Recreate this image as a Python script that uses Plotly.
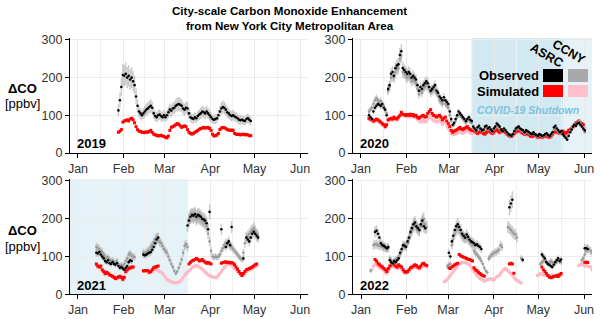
import pandas as pd
import plotly.graph_objects as go

W, H = 600, 319
YEARS = [2019, 2020, 2021, 2022]
MONTHS = ["Jan", "Feb", "Mar", "Apr", "May", "Jun"]
Y_TICKS = [0, 100, 200, 300]
OBS_ERR_PCT = [14, 7, 9, 9]

# ---- data: (first day, daily values) segments ----
OBS_ASRC_2019 = [("2019-01-28", [113, 140, 175, 207, 205, 210, 200, 205, 195, 200, 190, 180,
                                 150, 125, 110, 105, 100, 105, 110, 115, 118, 122, 125, 120,
                                 105, 98, 95, 100, 102, 98, 95, 100, 95, 100, 108, 115,
                                 112, 118, 120, 125, 128, 130, 128, 125, 118, 115, 120, 118,
                                 105, 95, 92, 90, 95, 92, 98, 102, 105, 110, 108, 105, 110, 105, 100,
                                 95, 90, 88, 90, 92, 100, 110, 118, 122, 120, 115,
                                 108, 105, 100, 98, 100, 97, 95, 92, 88, 87, 88, 86, 85, 90, 92, 88, 85])]
OBS_CCNY_2019 = []
SIM_ASRC_2019 = [("2019-01-28", [55, 58, 62, 82, 85, 86, 88, 85, 90, 92, 88, 80, 70, 62, 58,
                                 57, 55, 55, 54, 56, 55, 57, 60, 55, 50, 48, 47, 45, 46, 47, 45, 44,
                                 42, 40, 45, 60, 68, 70, 72, 75, 78, 76, 72, 68, 70, 72,
                                 70, 62, 55, 52, 50, 52, 55, 57, 60, 63, 65, 66, 68, 66, 67, 68, 65,
                                 60, 50, 45, 46, 48, 52, 62, 66, 68, 67, 65, 62, 61, 60, 61, 60,
                                 52, 50, 49, 50, 48, 49, 50, 48, 49, 48, 46, 46])]
SIM_CCNY_2019 = []

OBS_ASRC_2020 = [("2020-01-06", [100, 95, 90, 110, 120, 125, 130, 128, 125, 130, 120, 115, 100,
                                 170, 180, 210, 215, 205, 225, 232, 235, 260, 270,
                                 225, 220, 215, 210, 215, 210, 200, 205, 200, 195,
                                 180, 165, 175, 170, 180, 185, 190, 185, 175, 165, 170, 175, 180, 165, 160,
                                 150, 145, 140, 148, 140, 135, 130, 110, 90, 75, 80, 90,
                                 100, 110, 105, 100, 95, 90, 85, 90, 95, 88, 85,
                                 70, 65, 60, 68, 72, 65, 60, 62, 70, 72, 65, 68, 62, 58, 65,
                                 70, 78, 75, 70, 62, 58, 65, 60, 55, 50, 48, 45, 50, 58, 65,
                                 68, 70, 65, 62, 60, 55, 60, 58, 55, 52, 50, 55, 50, 48, 45,
                                 50, 48, 45, 47, 50, 52, 48, 45, 50, 55, 68, 72, 65, 60, 55, 58,
                                 50, 45, 40, 35, 45, 55, 62, 70, 75, 72, 78, 80, 75, 70, 65, 60])]
OBS_CCNY_2020 = [("2020-01-06", [110, 115, 120, 130, 140, 145, 140, 135, 138, 130, 125, 115, 105,
                                 165, 175, 200, 205, 200, 215, 222, 225, 250, 258,
                                 215, 212, 205, 200, 205, 198, 190, 195, 190, 185,
                                 170, 155, 165, 160, 170, 175, 180, 178, 170, 160, 165, 168, 170, 158, 155,
                                 140, 135, 130, 138, 130, 125, 120,
                                 100, 85, 72, 75, 85, 95, 102, 100, 95, 90, 85, 80, 85, 88, 82, 80,
                                 65, 62, 58, 65, 68, 62, 58, 60, 66, 68, 62, 64, 60, 55, 62,
                                 66, 72, 70, 66, 60, 55, 62, 58, 52, 48, 46, 44, 48, 55, 62,
                                 64, 66, 62, 58, 56, 52, 56, 55, 52, 50, 48, 52, 48, 46, 44,
                                 48, 46, 44, 45, 48, 50, 46, 44, 48, 52, 62, 66, 60, 56, 52, 55,
                                 48, 44, 42, 40, 48, 58, 65, 72, 76, 74, 80, 84, 78, 72, 62, 55])]
SIM_ASRC_2020 = [("2020-01-06", [92, 90, 88, 85, 87, 90, 88, 85, 82, 78, 75, 70, 75,
                                 88, 90, 92, 90, 95, 92, 90, 95, 100, 108, 103,
                                 102, 100, 102, 100, 103, 100, 102, 98, 100, 95, 92,
                                 95, 98, 100, 95, 97, 105, 110, 115, 105, 100, 98, 95, 98,
                                 100, 95, 88, 92, 95, 85, 78, 70, 60, 55, 58,
                                 60, 62, 65, 68, 64, 62, 65, 68, 70, 65, 62, 60,
                                 60, 58, 55, 52, 55, 58, 55, 52, 50, 55, 60, 58, 55, 52, 55,
                                 60, 62, 58, 55, 60, 62, 58, 55, 50, 47, 45, 44, 48, 52, 56,
                                 58, 60, 58, 55, 52, 50, 52, 50, 48, 45, 44, 46, 48, 45, 42,
                                 45, 43, 42, 44, 46, 45, 43, 42, 45, 50, 55, 58, 56, 55, 52, 55,
                                 58, 55, 52, 55, 60, 62, 65, 70, 75, 80, 82, 85, 80, 78, 75])]
SIM_CCNY_2020 = [("2020-01-06", [89, 87, 85, 82, 84, 87, 85, 82, 79, 75, 72, 67, 72,
                                 85, 87, 89, 87, 92, 89, 87, 92, 97, 104, 100,
                                 98, 97, 98, 96, 99, 96, 98, 94, 96, 90, 86,
                                 82, 84, 86, 82, 84, 90, 94, 98, 90, 86, 85, 82, 84,
                                 86, 82, 76, 80, 82, 72, 66, 60, 52, 48, 50,
                                 50, 52, 55, 58, 55, 52, 55, 58, 60, 56, 53, 52,
                                 57, 55, 52, 50, 52, 55, 52, 50, 48, 52, 57, 55, 52, 50, 52,
                                 57, 59, 55, 52, 57, 59, 55, 52, 48, 45, 43, 42, 46, 50, 54,
                                 56, 57, 55, 52, 50, 48, 50, 48, 46, 43, 42, 44, 46, 43, 40,
                                 43, 41, 40, 42, 44, 43, 41, 40, 43, 48, 52, 55, 53, 52, 50, 52,
                                 55, 52, 50, 52, 57, 59, 62, 66, 70, 75, 78, 80, 76, 74, 70, 65])]

OBS_ASRC_2021 = [("2021-01-13", [110, 108, 112, 105, 100, 95, 88, 85, 90, 82, 80, 85, 80, 78, 82,
                                 75, 70, 72, 68, 65, 70, 75, 85, 90, 88]),
                 ("2021-02-14", [105, 103, 105, 108, 110, 112, 118, 125, 135, 145, 150]),
                 ("2021-03-16", [182, 195, 205, 210, 208, 212, 205, 210, 208, 205, 200, 198, 195,
                                 188, 172, 218]),
                 ("2021-04-08", [172]),
                 ("2021-04-11", [125, 135, 140, 130]),
                 ("2021-04-15", [178]),
                 ("2021-04-23", [95]),
                 ("2021-04-25", [150, 145, 140, 150, 160, 165, 160, 155, 150])]
OBS_CCNY_2021 = [("2021-01-13", [125, 122, 120, 115, 112, 105, 100, 95, 98, 92, 88, 90, 86, 84, 88,
                                 80, 76, 78, 75, 80, 88, 95, 105, 108, 102, 100, 98]),
                 ("2021-02-14", [110, 108, 112, 115, 118, 125, 130, 138, 145, 148, 148, 140, 135,
                                 128, 120, 115, 110, 100, 90, 80, 72, 62, 55, 60, 70, 80, 92,
                                 110, 128, 132, 125]),
                 ("2021-03-17", [200, 205, 208, 205, 210, 200, 205, 202, 200, 195, 192, 188, 180,
                                 160, 140, 115, 100, 98, 100, 98, 100, 105]),
                 ("2021-04-08", [115, 122, 130, 135, 132, 135, 128, 125, 120, 115, 110, 105, 100,
                                 95, 92, 110, 135, 150, 155, 160, 165, 170, 175, 168, 160, 155])]
SIM_ASRC_2021 = [("2021-01-13", [80, 75, 72, 75, 65, 60, 55, 58, 56, 52, 50, 48, 45, 42, 44, 46,
                                 48, 45, 40, 45, 60, 65, 68, 70, 72, 72]),
                 ("2021-02-14", [62, 62, 63, 62, 58, 60, 65, 70, 72, 73, 75]),
                 ("2021-03-17", [80, 85, 88, 90, 92, 95, 92, 88, 90, 92, 88, 85, 82, 84, 82, 80]),
                 ("2021-04-08", [82, 84, 85, 86, 84, 85, 83, 84, 82, 78, 72, 66, 60, 55, 50,
                                 55, 60, 65, 66, 68, 70, 72, 75, 78, 80])]
SIM_CCNY_2021 = [("2021-01-13", [77, 72, 70, 72, 62, 57, 52, 55, 53, 50, 48, 46, 43, 40, 42, 44,
                                 46, 43, 38, 43, 57, 62, 65, 67, 69, 70]),
                 ("2021-02-14", [60, 60, 61, 60, 56, 58, 62, 66, 65, 64, 62, 60, 58, 55, 50,
                                 45, 40, 37, 35, 33, 32, 30, 30, 31, 32, 35, 38, 44, 50, 55, 58,
                                 62, 66, 70, 72, 75, 76, 75, 72, 70, 66, 62, 58, 55, 52, 50,
                                 48, 46, 45, 44, 46, 50, 55, 60, 65, 70, 75, 80, 82, 80, 76, 72,
                                 68, 64, 60, 56, 52, 50, 52, 56, 60, 62, 64, 66, 68, 70, 72, 75])]

OBS_ASRC_2022 = [("2022-01-10", [165, 168, 160, 150, 135, 130, 128, 125, 122, 125]),
                 ("2022-01-20", [90, 85, 82, 88, 85, 90, 95]),
                 ("2022-01-27", [110, 120, 130, 128, 125, 140, 150, 165, 175, 185, 190, 180, 175,
                                 170, 185, 195, 180, 175]),
                 ("2022-03-01", [110, 100]),
                 ("2022-03-03", [140, 155, 170, 180, 185, 178, 170, 160, 155, 150, 158, 152, 145,
                                 140, 138, 135, 130, 132, 128, 125, 120]),
                 ("2022-04-11", [230, 240, 250]),
                 ("2022-04-20", [91]),
                 ("2022-05-03", [105, 100, 95, 85, 80, 78, 75, 72, 78, 85, 90, 95, 88, 92]),
                 ("2022-06-01", [122, 122, 120])]
OBS_CCNY_2022 = [("2022-01-07", [62]),
                 ("2022-01-09", [130, 132, 133, 130, 128, 130, 126, 124, 122, 120, 122,
                                 95, 90, 85, 90, 92, 95, 100,
                                 105, 115, 125, 130, 128, 135, 145, 160, 170, 180, 185, 178, 172,
                                 168, 180, 190, 200, 185, 178]),
                 ("2022-02-28", [75, 78, 80, 130, 145, 160, 170, 175, 170, 162, 155, 150, 148, 150,
                                 145, 140, 135, 130, 115, 110, 105, 100, 95, 88, 80, 70, 62, 58,
                                 95, 100, 105, 108, 110, 112, 115, 118, 130, 125]),
                 ("2022-04-10", [178, 175, 170, 165, 160, 158, 150]),
                 ("2022-04-19", [95]),
                 ("2022-05-02", [80, 85, 88, 90, 86, 82, 84, 88, 85, 80, 82, 86, 90, 88, 85]),
                 ("2022-05-30", [90, 95, 105, 115, 120, 118, 115, 110])]
SIM_ASRC_2022 = [("2022-01-10", [92, 88, 82, 78, 75, 72, 68, 65, 60, 68, 75, 78, 80, 78, 75, 72, 78,
                                 75, 72, 65, 60, 58, 60, 65, 70, 72, 75, 78, 76, 72, 70, 75, 80,
                                 82, 78, 76]),
                 ("2022-03-01", [70, 68, 72, 75, 78, 80, 82, 105, 102, 100, 98, 97, 95, 93, 92, 90,
                                 88, 70, 65, 62, 58, 55, 52, 50, 48]),
                 ("2022-04-11", [80, 82, 80, 56]),
                 ("2022-05-03", [72, 65, 60, 55, 50, 46, 44, 45, 47, 48, 50, 47, 52, 55]),
                 ("2022-06-01", [85, 85, 84])]
SIM_CCNY_2022 = [("2022-01-08", [65, 75, 80, 78, 75, 70, 68, 66, 62, 58, 55, 62, 68, 72, 74, 72, 70,
                                 68, 72, 70, 66, 60, 56, 55, 57, 62, 66, 68, 70, 72, 70, 68, 66,
                                 70, 74, 76, 74, 72]),
                 ("2022-02-26", [33, 36, 40, 45, 50, 55, 60, 65, 70, 75, 80, 82, 85, 84, 85, 82,
                                 80, 78, 72, 65, 60, 55, 50, 46, 42, 40, 38, 35, 36, 38,
                                 40, 42, 40, 38, 40, 45, 48, 50, 55, 60, 65, 68, 66, 62, 58,
                                 55, 50, 45, 40, 38, 35, 32, 30]),
                 ("2022-04-30", [50, 52, 55, 54, 52, 50, 50, 49, 48, 50, 51, 50, 49, 50, 52, 50, 50]),
                 ("2022-05-28", [76, 78, 80, 78, 75, 76, 74, 73, 72, 65])]

PANELS = [
    (OBS_CCNY_2019, OBS_ASRC_2019, SIM_CCNY_2019, SIM_ASRC_2019),
    (OBS_CCNY_2020, OBS_ASRC_2020, SIM_CCNY_2020, SIM_ASRC_2020),
    (OBS_CCNY_2021, OBS_ASRC_2021, SIM_CCNY_2021, SIM_ASRC_2021),
    (OBS_CCNY_2022, OBS_ASRC_2022, SIM_CCNY_2022, SIM_ASRC_2022),
]

# shaded periods (start, end) per year; None = axis edge
SHUTDOWN_2020 = [("2020-03-16 18:00", None), ("2020-03-16 18:00", "2020-05-17 12:00")]
SHADE_2021 = [(None, "2021-03-17 00:00")]

BLACK, GRAY, RED, PINK = "#000000", "#9a9a9a", "#ff0000", "#ffb8c4"
FONT = "Liberation Sans, Arial, sans-serif"


def expand(segments):
    xs, ys = [], []
    for start, vals in segments:
        xs += [d.strftime("%Y-%m-%d %H:%M") for d in
               pd.date_range(pd.Timestamp(start) + pd.Timedelta(hours=12), periods=len(vals), freq="D")]
        ys += list(vals)
    return xs, ys


def px_x(p):
    return p / W


def px_y(p):
    return 1 - p / H


X_DOM = [(70, 308), (353, 592), (70, 308), (353, 592)]
Y_DOM = [(38, 153), (38, 153), (179, 294.3), (179, 294.3)]

fig = go.Figure()
layout = dict(width=W, height=H, margin=dict(l=0, r=0, t=0, b=0, autoexpand=False),
              paper_bgcolor="white", plot_bgcolor="white", showlegend=False,
              font=dict(family=FONT, size=12, color="#333333"))
shapes, annots = [], []

for i, (year, series) in enumerate(zip(YEARS, PANELS)):
    sfx = "" if i == 0 else str(i + 1)
    xr = [f"{year-1}-12-26 14:00", f"{year}-06-06 10:00"]
    month_starts = [f"{year}-{m:02d}-01" for m in range(1, 7)]
    mids = [(pd.Timestamp(month_starts[k]) + (pd.Timestamp(month_starts[k + 1]) -
             pd.Timestamp(month_starts[k])) / 2).strftime("%Y-%m-%d %H:%M") for k in range(5)]
    layout["xaxis" + sfx] = dict(
        domain=[px_x(X_DOM[i][0]), px_x(X_DOM[i][1])], anchor="y" + sfx, type="date",
        range=xr, tickmode="array", tickvals=month_starts, ticktext=MONTHS,
        showline=True, linecolor="#000000", linewidth=1.2, ticks="outside", ticklen=4,
        tickcolor="#000000", tickfont=dict(size=12.5, color="#333333"),
        showgrid=True, gridcolor="#ebebeb", gridwidth=1, zeroline=False,
        minor=dict(tickmode="array", tickvals=mids, showgrid=True, gridcolor="#f0f0f0", gridwidth=1))
    layout["yaxis" + sfx] = dict(
        domain=[px_y(Y_DOM[i][1]), px_y(Y_DOM[i][0])], anchor="x" + sfx,
        range=[0, 305], tickvals=Y_TICKS, showline=True, linecolor="#000000", linewidth=1.2,
        ticks="outside", ticklen=4, tickcolor="#000000", tickfont=dict(size=12.5, color="#333333"),
        showgrid=True, gridcolor="#ebebeb", gridwidth=1, zeroline=False)

    obs_ccny, obs_asrc, sim_ccny, sim_asrc = series
    xa, ya = "x" + sfx, "y" + sfx
    for segs, col, size in [(sim_ccny, PINK, 3), (sim_asrc, RED, 3)]:
        if segs:
            x, y = expand(segs)
            fig.add_trace(go.Scatter(x=x, y=y, mode="markers", xaxis=xa, yaxis=ya,
                                     marker=dict(color=col, size=size, symbol="square", line=dict(width=0))))
    for segs, col in [(obs_ccny, GRAY), (obs_asrc, BLACK)]:
        if segs:
            x, y = expand(segs)
            fig.add_trace(go.Scatter(
                x=x, y=y, mode="markers", xaxis=xa, yaxis=ya,
                marker=dict(color=col, size=2.6, line=dict(width=0)),
                error_y=dict(type="percent", value=OBS_ERR_PCT[i], color="rgba(160,160,160,0.55)",
                             thickness=1.4, width=0)))

    # year label
    yl = 143 if i < 2 else 285
    annots.append(dict(text=f"<b>{year}</b>", x=px_x(X_DOM[i][0] + 5), y=px_y(yl), xref="paper",
                       yref="paper", xanchor="left", yanchor="middle", showarrow=False,
                       font=dict(size=13, color="#000000")))
    # shading
    shade = SHUTDOWN_2020 if year == 2020 else SHADE_2021 if year == 2021 else []
    for s, e in shade:
        shapes.append(dict(type="rect", xref=xa, yref="paper",
                           x0=s or xr[0], x1=e or xr[1],
                           y0=px_y(Y_DOM[i][1]), y1=px_y(Y_DOM[i][0]),
                           fillcolor="rgba(173,216,230,0.32)", line=dict(width=0), layer="below"))

# title and y titles
annots.append(dict(text="<b>City-scale Carbon Monoxide Enhancement<br>from New York City Metropolitan Area</b>",
                   x=px_x(289), y=px_y(18), xref="paper", yref="paper", showarrow=False,
                   xanchor="center", yanchor="middle", font=dict(size=11.6, color="#000000")))
for yc1, yc2 in [(88, 103.5), (230, 246)]:
    annots.append(dict(text="<b>ΔCO</b>", x=px_x(22), y=px_y(yc1), xref="paper", yref="paper",
                       showarrow=False, xanchor="center", yanchor="middle",
                       font=dict(size=13, color="#000000")))
    annots.append(dict(text="[ppbv]", x=px_x(22), y=px_y(yc2), xref="paper", yref="paper",
                       showarrow=False, xanchor="center", yanchor="middle",
                       font=dict(size=13, color="#000000")))

# custom legend
for label, xc, yc in [("ASRC", 546, 55), ("CCNY", 569, 52)]:
    annots.append(dict(text=f"<b>{label}</b>", x=px_x(xc), y=px_y(yc), textangle=30,
                       xref="paper", yref="paper", showarrow=False, xanchor="center",
                       yanchor="middle", font=dict(size=12.5, color="#000000")))
for label, yc in [("Observed", 75.5), ("Simulated", 91)]:
    annots.append(dict(text=f"<b>{label}</b>", x=px_x(541), y=px_y(yc), xref="paper", yref="paper",
                       showarrow=False, xanchor="right", yanchor="middle",
                       font=dict(size=13, color="#000000")))
for (x0, x1, y0, y1), col in [((543, 563, 69, 82), BLACK), ((568, 588, 69, 82), "#a9a9a9"),
                              ((543, 563, 85, 97), RED), ((568, 588, 85, 97), "#ffc0cb")]:
    shapes.append(dict(type="rect", xref="paper", yref="paper", x0=px_x(x0), x1=px_x(x1),
                       y0=px_y(y1), y1=px_y(y0), fillcolor=col, line=dict(width=0), layer="above"))
annots.append(dict(text="<b><i>COVID-19 Shutdown</i></b>", x=px_x(528), y=px_y(110), xref="paper",
                   yref="paper", showarrow=False, xanchor="center", yanchor="middle",
                   font=dict(size=10.5, color="#7cc2dc")))

layout["shapes"] = shapes
layout["annotations"] = annots
fig.update_layout(**layout)
fig.write_html("out.html", config={"displayModeBar": False},
               post_script="document.body.style.margin='0';document.body.style.padding='0';")
